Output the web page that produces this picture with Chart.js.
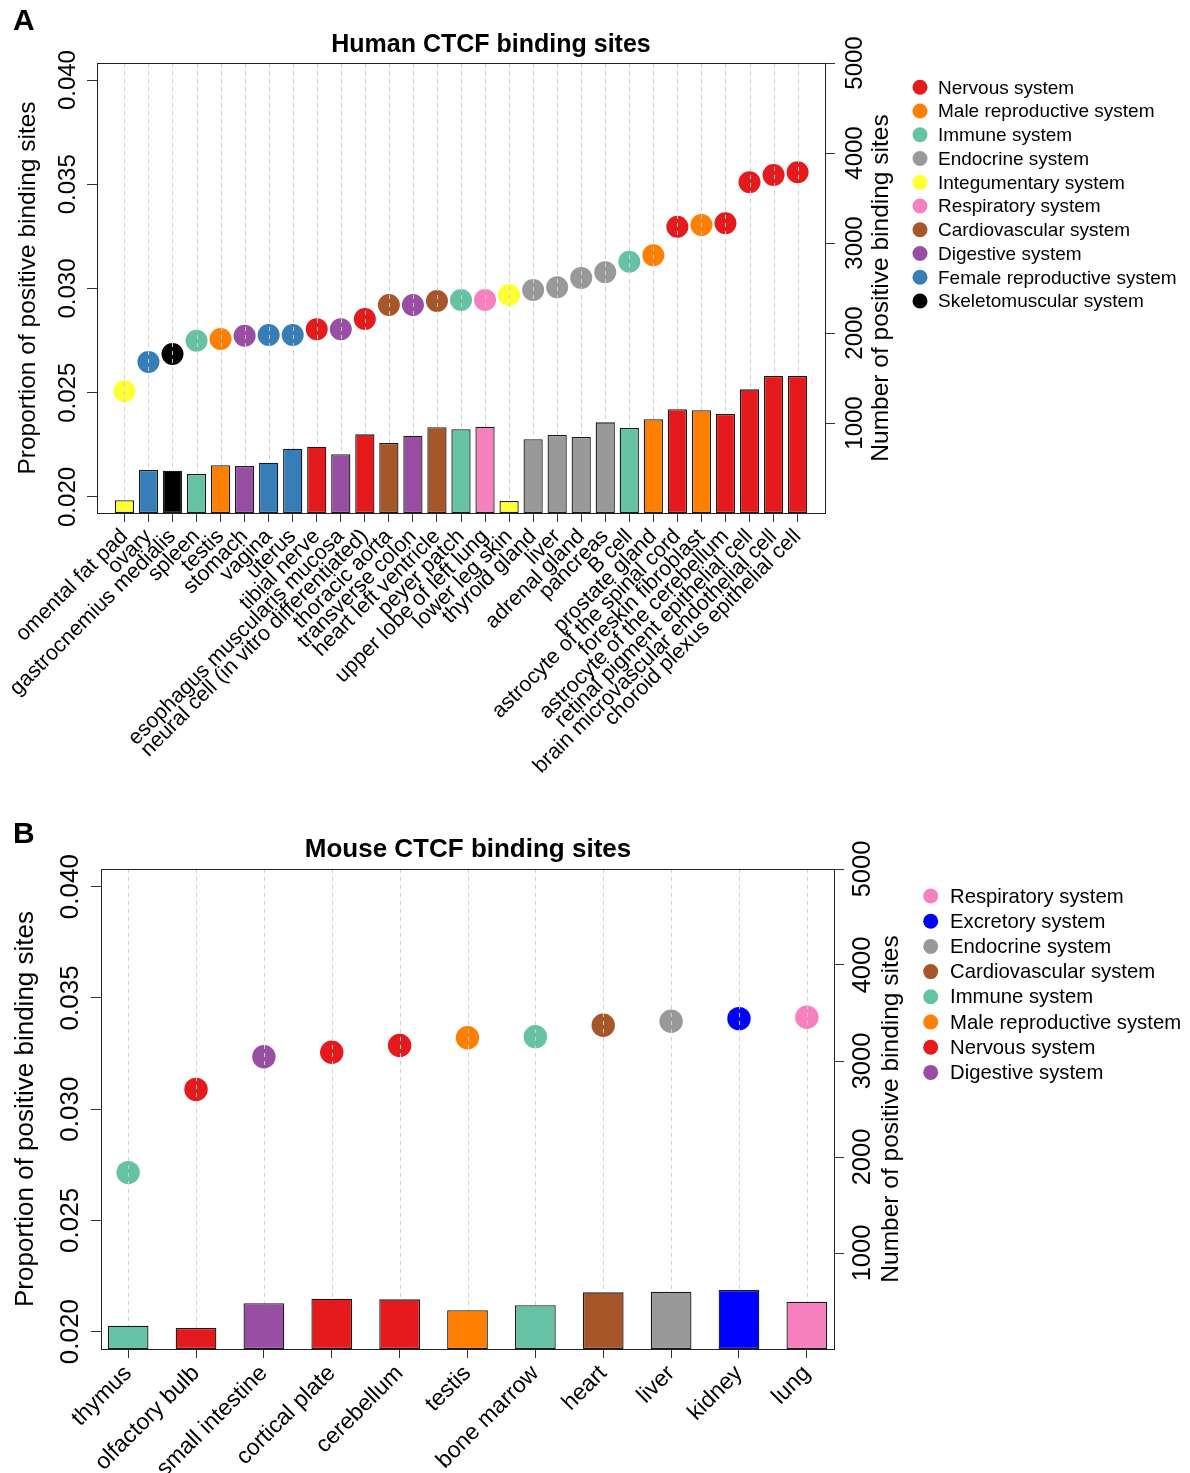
<!DOCTYPE html>
<html>
<head>
<meta charset="utf-8">
<script src="https://cdn.jsdelivr.net/npm/chart.js@4.4.1/dist/chart.umd.min.js"></script>
<style>
  body { margin: 0; background: #fff; }
  .wrap { position: absolute; left: 0; width: 1190px; }
  #wrapA { top: 0; height: 800px; }
  #wrapB { top: 800px; height: 673px; }
</style>
</head>
<body>
<div class="wrap" id="wrapA"><canvas id="chartA"></canvas></div>
<div class="wrap" id="wrapB"><canvas id="chartB"></canvas></div>
<script>
// values
const humanTissues = ['omental fat pad', 'ovary', 'gastrocnemius medialis', 'spleen', 'testis', 'stomach',
  'vagina', 'uterus', 'tibial nerve', 'esophagus muscularis mucosa', 'neural cell (in vitro differentiated)',
  'thoracic aorta', 'transverse colon', 'heart left ventricle', 'peyer patch', 'upper lobe of left lung',
  'lower leg skin', 'thyroid gland', 'liver', 'adrenal gland', 'pancreas', 'B cell', 'prostate gland',
  'astrocyte of the spinal cord', 'foreskin fibroblast', 'astrocyte of the cerebellum',
  'retinal pigment epithelial cell', 'brain microvascular endothelial cell', 'choroid plexus epithelial cell'];
const humanSystems = ['Integumentary', 'Female reproductive', 'Skeletomuscular', 'Immune', 'Male reproductive',
  'Digestive', 'Female reproductive', 'Female reproductive', 'Nervous', 'Digestive', 'Nervous',
  'Cardiovascular', 'Digestive', 'Cardiovascular', 'Immune', 'Respiratory', 'Integumentary', 'Endocrine',
  'Endocrine', 'Endocrine', 'Endocrine', 'Immune', 'Male reproductive', 'Nervous', 'Male reproductive',
  'Nervous', 'Nervous', 'Nervous', 'Nervous'];
const humanProportion = [0.02507, 0.02648, 0.02686, 0.02749, 0.02758, 0.02773, 0.02777, 0.02777, 0.02805,
  0.02805, 0.02854, 0.02921, 0.02921, 0.02940, 0.02945, 0.02945, 0.02969, 0.02993, 0.03006, 0.03051,
  0.03078, 0.03128, 0.03160, 0.03296, 0.03305, 0.03313, 0.03510, 0.03545, 0.03558];
const humanCount = [141, 478, 470, 433, 530, 522, 559, 715, 737, 652, 874, 778, 859, 952, 930, 959, 133,
  819, 867, 844, 1007, 944, 1041, 1152, 1141, 1100, 1374, 1522, 1522];
const humanLegend = ['Nervous', 'Male reproductive', 'Immune', 'Endocrine', 'Integumentary', 'Respiratory',
  'Cardiovascular', 'Digestive', 'Female reproductive', 'Skeletomuscular'];

const mouseTissues = ['thymus', 'olfactory bulb', 'small intestine', 'cortical plate', 'cerebellum', 'testis',
  'bone marrow', 'heart', 'liver', 'kidney', 'lung'];
const mouseSystems = ['Immune', 'Nervous', 'Digestive', 'Nervous', 'Nervous', 'Male reproductive', 'Immune',
  'Cardiovascular', 'Endocrine', 'Excretory', 'Respiratory'];
const mouseProportion = [0.02715, 0.03089, 0.03236, 0.03256, 0.03286, 0.03321, 0.03326, 0.03377, 0.03395,
  0.03407, 0.03413];
const mouseCount = [243, 219, 476, 524, 517, 403, 455, 590, 597, 615, 493];
const mouseLegend = ['Respiratory', 'Excretory', 'Endocrine', 'Cardiovascular', 'Immune', 'Male reproductive',
  'Nervous', 'Digestive'];

const propTicks = [0.020, 0.025, 0.030, 0.035, 0.040];
const countTicks = [1000, 2000, 3000, 4000, 5000];

const systemColors = {
  'Nervous': '#E41A1C', 'Male reproductive': '#FF7F00', 'Immune': '#66C2A5', 'Endocrine': '#999999',
  'Integumentary': '#FFFF33', 'Respiratory': '#F781BF', 'Cardiovascular': '#A65628', 'Digestive': '#984EA3',
  'Female reproductive': '#377EB8', 'Skeletomuscular': '#000000', 'Excretory': '#0000FF'
};

const FONT = '"Liberation Sans", Arial, Helvetica, sans-serif';

function rotText(ctx, text, x, y, size, bold) {
  ctx.save();
  ctx.translate(x, y);
  ctx.rotate(-Math.PI / 2);
  ctx.font = (bold ? 'bold ' : '') + size + 'px ' + FONT;
  ctx.textAlign = 'center';
  ctx.textBaseline = 'alphabetic';
  ctx.fillText(text, 0, 0);
  ctx.restore();
}

// frame, gridlines over the points, rotated axis text, title and legend
const decoPlugin = {
  id: 'deco',
  afterDatasetDraw(chart, args, o) {
    if (args.index !== 1) return;
    const ctx = chart.ctx, a = chart.chartArea, xs = chart.scales.x;
    ctx.save();
    ctx.strokeStyle = '#cfcfcf';
    ctx.lineWidth = 1;
    ctx.setLineDash([4, 4]);
    o.labels.forEach((l, i) => {
      const x = Math.round(xs.getPixelForValue(i)) + 0.5;
      ctx.beginPath();
      ctx.moveTo(x, a.top);
      ctx.lineTo(x, a.bottom);
      ctx.stroke();
    });
    ctx.restore();
  },
  afterDraw(chart, args, o) {
    const ctx = chart.ctx, a = chart.chartArea;
    ctx.save();
    ctx.strokeStyle = '#222';
    ctx.lineWidth = 1;
    ctx.strokeRect(a.left + 0.5, a.top + 0.5, a.right - a.left, a.bottom - a.top);
    ctx.fillStyle = '#000';

    const yl = chart.scales.yL, yr = chart.scales.yR;
    propTicks.forEach(v => rotText(ctx, v.toFixed(3), o.leftTickX, yl.getPixelForValue(v), o.leftTickSize));
    countTicks.forEach(v => rotText(ctx, String(v), o.rightTickX, yr.getPixelForValue(v), o.rightTickSize));
    const midY = (a.top + a.bottom) / 2;
    rotText(ctx, 'Proportion of positive binding sites', o.leftTitleX, midY, o.leftTitleSize);
    rotText(ctx, 'Number of positive binding sites', o.rightTitleX, midY, o.rightTitleSize);

    ctx.textAlign = 'center';
    ctx.textBaseline = 'alphabetic';
    ctx.font = 'bold ' + o.titleSize + 'px ' + FONT;
    ctx.fillText(o.title, o.titleX, o.titleY);
    ctx.textAlign = 'left';
    ctx.font = 'bold 30px ' + FONT;
    ctx.fillText(o.panel, 13, o.panelY);

    ctx.font = o.legendSize + 'px ' + FONT;
    ctx.textBaseline = 'middle';
    o.legend.forEach((s, i) => {
      const y = o.legendY + i * o.legendStep;
      ctx.fillStyle = systemColors[s];
      ctx.beginPath();
      ctx.arc(o.legendDotX, y, 7.5, 0, Math.PI * 2);
      ctx.fill();
      ctx.fillStyle = '#000';
      ctx.fillText(s + ' system', o.legendTextX, y + 1);
    });
    ctx.restore();
  }
};

function makeChart(id, labels, systems, prop, count, legend, g) {
  const colors = systems.map(s => systemColors[s]);
  const n = labels.length;
  return new Chart(document.getElementById(id), {
    type: 'bar',
    data: {
      datasets: [
        {
          type: 'bar',
          data: count.map((v, i) => ({ x: i, y: v })),
          yAxisID: 'yR',
          backgroundColor: colors,
          borderColor: '#1a1a1a',
          borderWidth: 1.3,
          borderSkipped: false,
          barPercentage: g.barPct,
          categoryPercentage: 1,
          order: 1
        },
        {
          type: 'line',
          data: prop.map((v, i) => ({ x: i, y: v })),
          yAxisID: 'yL',
          showLine: false,
          pointRadius: g.pointR,
          pointHoverRadius: g.pointR,
          pointBackgroundColor: colors,
          pointBorderWidth: 0,
          order: 2
        }
      ]
    },
    options: {
      responsive: true,
      maintainAspectRatio: false,
      animation: false,
      events: [],
      layout: { padding: { top: g.top, left: 0, right: 0, bottom: 0 } },
      scales: {
        x: {
          type: 'linear',
          offset: false,
          min: -g.pad,
          max: n - 1 + g.pad,
          afterBuildTicks: s => { s.ticks = labels.map((l, i) => ({ value: i })); },
          afterFit: s => { s.height = g.xHeight; },
          ticks: {
            autoSkip: false,
            minRotation: 45,
            maxRotation: 45,
            padding: g.xPad,
            color: '#000',
            font: { family: FONT, size: g.xFont },
            callback: v => labels[v]
          },
          grid: { offset: false, drawOnChartArea: false, drawTicks: true, tickLength: 9, color: '#333' },
          border: { display: false }
        },
        yL: {
          type: 'linear',
          position: 'left',
          min: g.propMin,
          max: g.propMax,
          afterBuildTicks: s => { s.ticks = propTicks.map(v => ({ value: v })); },
          afterFit: s => { s.width = g.left; },
          ticks: { display: false },
          grid: { drawOnChartArea: false, tickLength: 10, color: '#333' },
          border: { display: false }
        },
        yR: {
          type: 'linear',
          position: 'right',
          min: 0,
          max: 5000,
          afterBuildTicks: s => { s.ticks = countTicks.map(v => ({ value: v })); },
          afterFit: s => { s.width = 1190 - g.right; },
          ticks: { display: false },
          grid: { drawOnChartArea: false, tickLength: 10, color: '#333' },
          border: { display: false }
        }
      },
      plugins: {
        legend: { display: false },
        tooltip: { enabled: false },
        deco: Object.assign({ labels: labels, legend: legend }, g.deco)
      }
    },
    plugins: [decoPlugin]
  });
}

makeChart('chartA', humanTissues, humanSystems, humanProportion, humanCount, humanLegend, {
  top: 63, left: 97, right: 825, xHeight: 287, pad: 1.14, barPct: 0.8, pointR: 11,
  propMin: 0.01923, propMax: 0.04082, xFont: 21.5, xPad: 2,
  deco: {
    title: 'Human CTCF binding sites', titleX: 491, titleY: 52, titleSize: 25, panel: 'A', panelY: 30,
    leftTickX: 75, leftTickSize: 24, rightTickX: 862, rightTickSize: 24,
    leftTitleX: 35, leftTitleSize: 24.5, rightTitleX: 888, rightTitleSize: 24.5,
    legendDotX: 920, legendTextX: 938, legendY: 87.3, legendStep: 23.75, legendSize: 19
  }
});

makeChart('chartB', mouseTissues, mouseSystems, mouseProportion, mouseCount, mouseLegend, {
  top: 69, left: 101, right: 834, xHeight: 124, pad: 0.4, barPct: 0.6, pointR: 11.7,
  propMin: 0.019222, propMax: 0.040795, xFont: 23, xPad: 2,
  deco: {
    title: 'Mouse CTCF binding sites', titleX: 468, titleY: 57, titleSize: 26, panel: 'B', panelY: 43,
    leftTickX: 78, leftTickSize: 26, rightTickX: 870, rightTickSize: 25.5,
    leftTitleX: 32.5, leftTitleSize: 26, rightTitleX: 898, rightTitleSize: 24.5,
    legendDotX: 930.7, legendTextX: 950, legendY: 96, legendStep: 25.2, legendSize: 20.3
  }
});
</script>
</body>
</html>
